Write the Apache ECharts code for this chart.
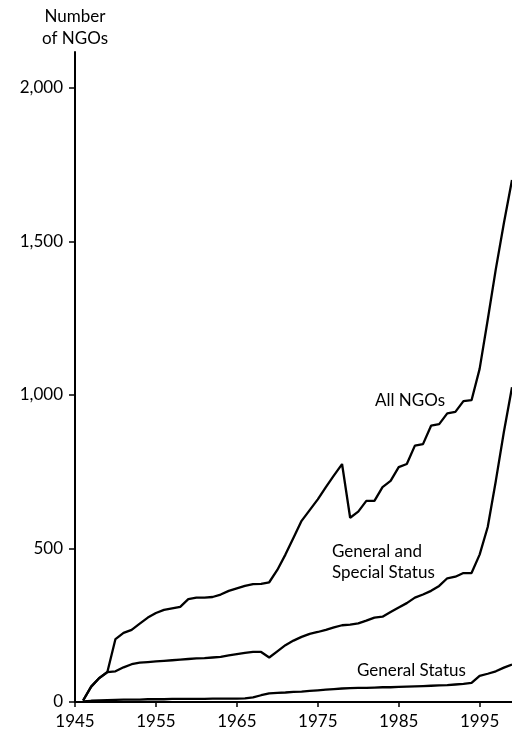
<!DOCTYPE html>
<html>
<head>
<meta charset="utf-8">
<script src="https://cdn.jsdelivr.net/npm/echarts@6/dist/echarts.min.js"></script>
<style>
html,body{margin:0;padding:0;background:#fff;}
#chart{width:512px;height:733px;}
</style>
</head>
<body>
<div id="chart"></div>
<script>
// Years covered
var years = [1946,1947,1948,1949,1950,1951,1952,1953,1954,1955,1956,1957,1958,1959,1960,1961,1962,1963,1964,1965,1966,1967,1968,1969,1970,1971,1972,1973,1974,1975,1976,1977,1978,1979,1980,1981,1982,1983,1984,1985,1986,1987,1988,1989,1990,1991,1992,1993,1994,1995,1996,1997,1998,1999];

// All NGOs
var allNGOs = [5,50,78,98,205,225,235,255,275,290,300,305,310,335,340,340,342,350,362,370,378,384,385,390,430,480,535,590,625,660,700,738,775,600,620,655,655,700,720,765,775,835,840,900,905,940,945,980,983,1085,1245,1410,1560,1700];

// General and Special Status
var generalSpecial = [5,50,78,97,100,113,123,128,130,132,134,136,138,140,142,143,145,147,152,156,160,163,163,145,165,185,200,212,222,228,235,243,250,252,256,265,275,278,293,308,322,340,350,362,378,403,408,420,420,480,570,720,880,1025];

// General Status
var generalStatus = [2,4,5,6,7,8,8,8,9,9,9,10,10,10,10,10,11,11,11,11,12,15,22,28,30,31,33,34,36,38,40,42,44,45,46,46,47,48,48,49,50,51,52,53,54,55,57,59,62,85,92,100,112,122];

// Tick labels
var xTicks = [1945,1955,1965,1975,1985,1995];
var yTicks = [0,500,1000,1500,2000];

function pairs(vals){ return years.map(function(y,i){ return [y, vals[i]]; }); }

var FONT = 'Lato, "Open Sans", sans-serif';
var chart = echarts.init(document.getElementById('chart'), null, {renderer:'canvas'});

var lineStyle = {color:'#000', width:2.3};
function mk(name, vals){
  return {name:name, type:'line', data:pairs(vals), symbol:'none', smooth:false,
    lineStyle:lineStyle, animation:false, z:3};
}

chart.setOption({
  animation:false,
  backgroundColor:'#fff',
  grid:{left:75, right:0, top:52, bottom:31, containLabel:false},
  xAxis:{
    type:'value', min:1945, max:1999,
    splitLine:{show:false},
    axisLine:{show:true, lineStyle:{color:'#000', width:2}},
    axisTick:{show:true, length:5, customValues:xTicks, lineStyle:{color:'#000', width:1.5}},
    axisLabel:{customValues:xTicks, color:'#000', fontFamily:FONT, fontSize:17, margin:11,
      formatter:function(v){return String(v);}}
  },
  yAxis:{
    type:'value', min:0, max:2117,
    name:'Number\nof NGOs', nameLocation:'end', nameGap:2,
    nameTextStyle:{color:'#000', fontFamily:FONT, fontSize:17, lineHeight:22, align:'center', verticalAlign:'bottom'},
    splitLine:{show:false},
    axisLine:{show:true, lineStyle:{color:'#000', width:2}},
    axisTick:{show:true, length:6, customValues:yTicks, lineStyle:{color:'#000', width:1.5}},
    axisLabel:{customValues:yTicks, color:'#000', fontFamily:FONT, fontSize:17, margin:12,
      formatter:function(v){ return v.toLocaleString('en-US'); }}
  },
  series:[mk('All NGOs', allNGOs), mk('General and Special Status', generalSpecial), mk('General Status', generalStatus)],
  graphic:[
    {type:'text', x:445, y:401, style:{text:'All NGOs', font:'17px '+FONT, fill:'#000', textAlign:'right', textVerticalAlign:'middle'}},
    {type:'text', x:332, y:552, style:{text:'General and', font:'17px '+FONT, fill:'#000', textAlign:'left', textVerticalAlign:'middle'}},
    {type:'text', x:332, y:573, style:{text:'Special Status', font:'17px '+FONT, fill:'#000', textAlign:'left', textVerticalAlign:'middle'}},
    {type:'text', x:357, y:671, style:{text:'General Status', font:'17px '+FONT, fill:'#000', textAlign:'left', textVerticalAlign:'middle'}}
  ]
});
</script>
</body>
</html>
